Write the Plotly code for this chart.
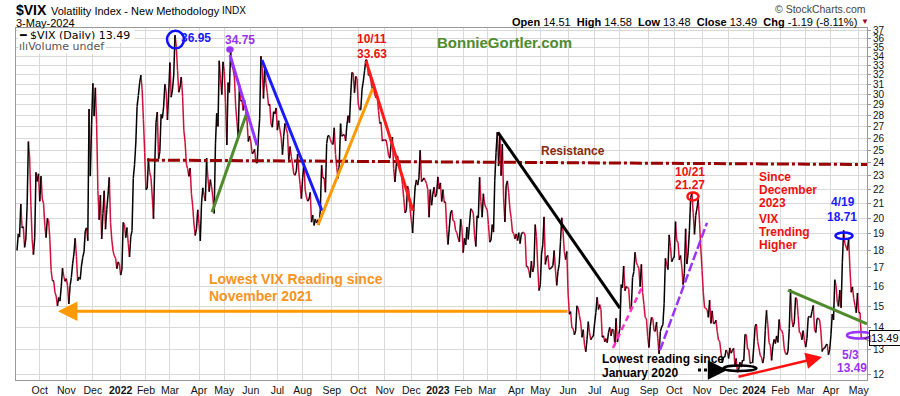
import numpy as np
import pandas as pd
import plotly.graph_objects as go

# ---------------- data ----------------
START, END = "2021-09-07", "2024-05-03"
HOLIDAYS = ["2021-09-06", "2021-11-25", "2021-12-24",
            "2022-01-17", "2022-02-21", "2022-04-15", "2022-05-30", "2022-06-20",
            "2022-07-04", "2022-09-05", "2022-11-24", "2022-12-26",
            "2023-01-02", "2023-01-16", "2023-02-20", "2023-04-07", "2023-05-29",
            "2023-06-19", "2023-07-04", "2023-09-04", "2023-11-23", "2023-12-25",
            "2024-01-01", "2024-01-15", "2024-02-19", "2024-03-29"]

vix_2021 = [
    18.0, 19.0, 18.8, 20.95, 19.37, 19.46, 18.18, 18.69, 20.81, 25.71, 24.36, 20.87, 18.63, 17.75, 18.76, 23.25, 22.56, 23.14,
    21.15, 22.96, 21.30, 21.00, 19.54, 18.77, 20.0, 19.85, 18.64, 16.86, 16.30, 16.30, 15.70, 15.49, 15.01, 15.43, 15.24, 15.98, 16.98, 16.53, 16.26,
    16.41, 16.03, 15.10, 16.03, 16.48, 17.22, 17.78, 18.73, 17.66, 16.29, 16.49, 16.37, 17.11, 17.59, 17.91, 19.17, 19.38, 18.58, 28.62, 22.96, 27.19,
    31.12, 27.95, 30.67, 27.18, 21.89, 19.90, 21.58, 18.69, 20.31, 21.89, 19.29, 20.57, 21.57, 22.87, 19.70, 18.63, 17.96, 17.68, 17.54, 16.95, 17.33, 17.22]

vix_2022 = [
    16.60, 16.91, 19.73, 19.61, 18.76, 19.40, 18.41, 17.62, 18.83, 19.19, 22.79, 23.85, 25.59, 28.85, 29.90, 31.16, 31.96, 30.49, 27.66, 24.83,
    21.96, 22.09, 24.35, 23.22, 22.86, 21.44, 19.96, 23.91, 27.36, 28.33, 24.29, 24.88, 28.11, 27.75, 28.81, 31.02, 30.32, 27.59, 30.15,
    33.32, 29.74, 30.48, 31.98, 36.45, 35.13, 32.45, 30.23, 30.75, 31.77, 29.83, 26.67, 25.67, 23.87, 23.53, 22.94, 23.57, 21.67, 20.81, 19.63, 18.90, 19.33, 20.56,
    19.63, 18.57, 21.03, 22.10, 21.55, 21.16, 24.37, 22.88, 21.82, 22.70, 22.17, 21.37, 20.32, 25.52, 28.21, 27.02, 33.52, 31.60, 29.99, 33.40,
    32.34, 29.25, 25.42, 31.20, 30.19, 34.75, 32.99, 32.56, 31.77, 28.87, 27.47, 26.10, 30.96, 29.35, 29.43, 28.48, 29.45, 28.37, 27.50, 25.72, 26.19,
    25.69, 24.72, 24.79, 25.07, 24.02, 23.96, 26.09, 27.75, 34.02, 32.69, 29.62, 32.95, 31.13, 30.19, 28.95, 29.05, 27.23, 26.95, 28.36, 28.16, 28.71,
    26.70, 27.54, 26.73, 26.08, 24.64, 26.17, 27.29, 26.82, 26.40, 24.23, 25.30, 24.50, 23.88, 23.11, 23.03, 23.36, 24.69, 23.24, 22.33, 21.33,
    22.84, 23.93, 21.95, 21.44, 21.15, 21.29, 21.77, 19.74, 20.20, 19.53, 19.95, 19.69, 19.90, 19.56, 20.60, 23.80, 22.82, 22.82, 21.78, 25.56, 26.21, 26.21, 25.87,
    25.56, 25.47, 26.91, 24.64, 23.61, 22.79, 23.87, 27.27, 26.16, 26.27, 26.30, 25.76, 27.16, 27.99, 27.35, 29.92, 32.26, 32.18, 30.18, 31.84, 31.62,
    29.07, 28.55, 28.55, 30.52, 31.36, 32.45, 33.63, 33.57, 31.94, 32.02, 31.37, 30.50, 30.76, 29.98, 29.69, 29.85, 28.46, 27.28, 27.39, 25.75, 25.88,
    25.81, 25.86, 25.30, 24.55, 24.35, 25.54, 26.09, 23.53, 22.52, 23.73, 24.54, 24.11, 23.93, 23.12, 22.36, 21.35, 20.35, 20.50, 22.21, 21.89, 20.58,
    19.84, 19.06, 20.75, 22.15, 22.68, 22.29, 22.83, 25.00, 22.55, 22.66, 22.83, 22.62, 22.42, 21.97, 20.07, 21.97, 20.87, 21.65, 22.14, 21.44, 21.67]

vix_2023 = [
    22.90, 22.01, 22.46, 21.13, 21.97, 21.07, 21.09, 19.27, 18.35, 19.36, 20.34, 20.52, 19.85, 19.81, 19.20, 19.08, 18.73, 18.51, 19.94, 19.40,
    17.87, 18.73, 18.33, 19.43, 18.66, 19.63, 20.63, 20.53, 20.34, 18.91, 18.23, 20.17, 20.02, 22.87, 21.14, 20.07, 21.67, 20.95, 20.70,
    20.58, 19.59, 18.49, 18.61, 19.59, 19.11, 22.61, 24.80, 26.52, 23.73, 26.14, 22.99, 25.51, 21.38, 19.75, 22.26, 22.61, 21.74, 20.60, 19.97, 19.12, 19.02, 18.70,
    19.00, 18.58, 19.08, 18.40, 18.97, 19.10, 19.09, 18.91, 17.07, 17.07, 16.83, 16.46, 17.38, 16.77, 17.11, 19.59, 18.84, 17.03, 15.78,
    16.08, 17.78, 18.34, 20.09, 17.19, 17.61, 17.71, 16.94, 16.94, 17.03, 17.12, 17.99, 16.87, 16.05, 16.81, 17.21, 18.53, 20.03, 19.14, 17.95, 17.46, 17.94,
    15.65, 14.60, 14.73, 13.96, 13.94, 13.65, 13.83, 15.01, 14.90, 14.53, 14.22, 13.54, 13.88, 13.20, 12.91, 13.44, 14.25, 13.74, 13.43, 13.54, 13.59,
    14.18, 14.69, 15.44, 14.83, 15.07, 14.84, 13.54, 13.61, 13.34, 13.48, 13.30, 13.76, 13.99, 13.60, 13.91, 13.86, 13.19, 14.41, 13.33, 13.63,
    13.93, 16.09, 15.92, 17.10, 15.77, 15.99, 15.96, 15.85, 14.84, 14.82, 16.46, 16.78, 17.89, 17.30, 17.13, 16.97, 15.98, 17.20, 15.68, 15.08, 14.45, 14.39, 13.57,
    13.09, 14.02, 14.45, 14.40, 13.84, 13.80, 14.23, 13.48, 12.82, 13.79, 14.00, 14.11, 15.14, 17.54, 17.20, 16.90, 18.94, 18.22, 17.34, 17.52,
    17.61, 19.78, 18.58, 18.49, 17.45, 17.70, 17.03, 16.09, 16.69, 19.32, 17.21, 17.88, 19.22, 21.40, 21.71, 20.37, 18.97, 20.19, 20.68, 21.27, 19.75, 18.14,
    16.87, 15.66, 14.91, 14.89, 14.81, 14.45, 15.29, 14.17, 14.76, 14.16, 14.18, 14.32, 13.80, 13.41, 13.35, 12.85, 12.46, 12.69, 12.69, 12.98, 12.92,
    12.63, 13.08, 12.85, 12.97, 13.06, 12.35, 12.63, 12.07, 12.19, 12.48, 12.28, 12.56, 12.53, 13.67, 13.65, 13.03, 12.99, 12.43, 12.47, 12.45]

vix_2024 = [
    13.20, 14.04, 14.13, 13.35, 13.08, 12.76, 12.69, 12.44, 12.70, 13.84, 14.79, 14.13, 13.30, 13.19, 12.55, 13.14, 13.45, 13.26, 13.60, 13.31, 14.35,
    13.88, 13.85, 13.67, 13.06, 12.83, 12.79, 12.93, 13.93, 15.85, 14.38, 14.01, 14.24, 15.42, 15.34, 14.54, 13.75, 13.74, 13.43, 13.84, 13.40,
    13.11, 13.49, 14.46, 14.50, 14.44, 14.74, 15.03, 13.88, 13.75, 14.40, 14.41, 14.33, 13.82, 12.92, 13.06, 13.06, 13.19, 13.24, 12.78, 13.01,
    13.65, 14.61, 14.33, 16.35, 16.03, 15.19, 14.98, 15.80, 14.91, 17.31, 19.23, 18.40, 18.21, 18.00, 18.71, 16.94, 15.69, 15.97, 15.37, 15.03, 14.67, 15.65,
    14.68, 14.68, 13.49]

Y_TICKS = list(range(12, 38))
MONTH_ABBR = ["Jan", "Feb", "Mar", "Apr", "May", "Jun", "Jul", "Aug", "Sep", "Oct", "Nov", "Dec"]

# trading-day calendar (StockCharts spaces trading days evenly)
days = pd.bdate_range(START, END)
days = days[~days.isin(pd.to_datetime(HOLIDAYS))]
pos_of = {d: i for i, d in enumerate(days)}

xs, ys = [], []
for year, vals in [(2021, vix_2021), (2022, vix_2022), (2023, vix_2023), (2024, vix_2024)]:
    ydays = days[days.year == year]
    for d, v in zip(ydays, vals):
        xs.append(pos_of[d])
        ys.append(v)

# month ticks: first trading day of each month
tickvals, ticktext = [], []
prev = None
for i, d in enumerate(days):
    key = (d.year, d.month)
    if key != prev and i > 0:
        tickvals.append(i)
        ticktext.append(f"<b>{d.year}</b>" if d.month == 1 else MONTH_ABBR[d.month - 1])
    prev = key

# colored close line: black when up, red when down
up_x, up_y, dn_x, dn_y = [], [], [], []
for k in range(1, len(xs)):
    if ys[k] >= ys[k - 1]:
        up_x += [xs[k - 1], xs[k], None]; up_y += [ys[k - 1], ys[k], None]
    else:
        dn_x += [xs[k - 1], xs[k], None]; dn_y += [ys[k - 1], ys[k], None]

ARIAL = "Liberation Sans, Arial, sans-serif"
VERD = "DejaVu Sans, Verdana, sans-serif"
RED_LINE = "#d0103a"

fig = go.Figure()
fig.add_trace(go.Scatter(x=dn_x, y=dn_y, mode="lines", line=dict(color=RED_LINE, width=1.5),
                         hoverinfo="skip", showlegend=False))
fig.add_trace(go.Scatter(x=up_x, y=up_y, mode="lines", line=dict(color="#000000", width=1.5),
                         hoverinfo="skip", showlegend=False))

# ---------------- drawn trend lines (x = trading-day index, y = VIX) ----------------
TRENDS = [
    # x0, y0, x1, y1, color, width, dash
    (102.8, 24.2, 672.5, 23.85, "#990000", 3, "12px,3px,3px,3px"),
    (154.3, 20.4, 182.0, 28.3, "#4e8b2d", 3, "solid"),
    (168.5, 34.15, 189.9, 25.4, "#9933ff", 3, "solid"),
    (193.8, 33.6, 241.3, 20.5, "#1a1aff", 3, "solid"),
    (238.1, 19.56, 281.6, 30.65, "#ff9900", 3, "solid"),
    (276.1, 33.5, 313.3, 20.5, "#ff1a1a", 3, "solid"),
    (380.5, 26.5, 477.0, 14.9, "#000000", 3, "solid"),
    (471.5, 13.07, 494.5, 15.96, "#ff33cc", 2.5, "6px,4px"),
    (508.7, 12.98, 545.9, 19.7, "#9933ff", 2.5, "9px,3px"),
    (610.0, 15.8, 672.5, 14.15, "#4e8b2d", 3, "solid"),
    (538.8, 12.16, 553.5, 12.16, "#000000", 3, "3px,3px"),
]
for x0, y0, x1, y1, c, w, dsh in TRENDS:
    fig.add_trace(go.Scatter(x=[x0, x1], y=[y0, y1], mode="lines",
                             line=dict(color=c, width=w, dash=dsh),
                             hoverinfo="skip", showlegend=False))

L = np.log10

def ell(xa, ya, w, h, color, width=2.5, fill="rgba(0,0,0,0)", xref="x"):
    return dict(type="circle", xref=xref, yref="y", xsizemode="pixel", ysizemode="pixel",
                xanchor=xa, yanchor=ya, x0=-w / 2, x1=w / 2, y0=-h / 2, y1=h / 2,
                line=dict(color=color, width=width), fillcolor=fill, layer="above")

W, H, LM, TM = 851, 352, 16, 28
def px(xp): return (xp - LM) / W
def py(yp): return (TM + H - yp) / H

shapes = [
    ell(125.4, 34.9, 17, 35, "#1010ff"),
    ell(168.5, 34.5, 6, 10, "#9933ff", 1.5, "#9933ff"),
    ell(534.8, 21.2, 11, 16, "#ff1111"),
    ell(654.3, 18.68, 17, 13, "#1010ff"),
    ell(572.0, 12.12, 33, 11, "#000000"),
    ell(px(859.5), 13.49, 25, 13, "#9933ff", xref="paper"),
]

def t(x, y, s, color, size=12, xanchor="center", bold=True, family=ARIAL):
    return dict(x=x, y=L(y), xref="x", yref="y", text=(f"<b>{s}</b>" if bold else s),
                showarrow=False, xanchor=xanchor, yanchor="middle",
                font=dict(family=family, size=size, color=color))

BLUE, PURPLE, RED = "#1a1aff", "#9933ee", "#ee1111"
ORANGE = "#f7931e"
ann = [
    t(134.5, 37.7, "3/7", BLUE), t(141.5, 36.1, "36.95", BLUE),
    t(170.9, 37.7, "5/9", PURPLE), t(176.4, 35.9, "34.75", PURPLE),
    t(280.9, 36.0, "10/11", RED), t(280.9, 34.3, "33.63", RED),
    t(385.3, 35.6, "BonnieGortler.com", "#4e8b2d", 15),
    t(439.9, 24.9, "Resistance", "#8b2a0a", 12),
    t(532.4, 23.27, "10/21", RED), t(532.4, 22.3, "21.27", RED),
    t(585.4, 22.9, "Since", RED, 12, "left"), t(585.4, 21.93, "December", RED, 12, "left"),
    t(585.4, 21.02, "2023", RED, 12, "left"), t(585.4, 19.95, "VIX", RED, 12, "left"),
    t(585.4, 19.11, "Trending", RED, 12, "left"), t(585.4, 18.32, "Higher", RED, 12, "left"),
    t(653.5, 21.09, "4/19", BLUE), t(652.7, 20.08, "18.71", BLUE),
    t(659.5, 12.78, "5/3", PURPLE), t(661.0, 12.26, "13.49", PURPLE),
    t(150.3, 16.4, "Lowest VIX Reading since", ORANGE, 14, "left"),
    t(150.3, 15.5, "November 2021", ORANGE, 14, "left"),
    t(461.2, 12.6, "Lowest reading since", "#000000", 12, "left"),
    t(461.2, 12.05, "January 2020", "#000000", 12, "left"),
]

def arrow(hx, hy, tx, ty, color, width):
    return dict(x=hx, y=L(hy), ax=tx, ay=L(ty), xref="x", yref="y", axref="x", ayref="y",
                text="", showarrow=True, arrowhead=2, arrowsize=1.3, arrowwidth=width,
                arrowcolor=color)

ann += [
    arrow(32.4, 14.75, 436.7, 14.75, "#ff9900", 3),
    arrow(636.9, 12.69, 569.6, 11.88, "#ff1111", 2.5),
    arrow(562.0, 12.16, 553.0, 12.16, "#000000", 3),
]

# header / legend texts (paper coordinates)
def h(xp, yp, s, size, color="#000", xanchor="left", family=ARIAL, bg=None):
    d = dict(x=px(xp), y=py(yp), xref="paper", yref="paper", text=s, showarrow=False,
             xanchor=xanchor, yanchor="middle", font=dict(family=family, size=size, color=color))
    if bg:
        d.update(bgcolor=bg, borderpad=0)
    return d

ann += [
    h(14, 10, "<b>$VIX</b>", 14),
    h(49, 11, "Volatility Index - New Methodology", 11),
    h(220, 11, "INDX", 10),
    h(14, 23, "3-May-2024", 11),
    h(868, 9, "© StockCharts.com", 10.5, "#444", "right"),
    h(859, 22, "<b>Open</b> 14.51  <b>High</b> 14.58  <b>Low</b> 13.48  <b>Close</b> 13.49  <b>Chg</b> -1.19 (-8.11%)",
      11, "#000", "right"),
    h(865, 22, "▼", 8, "#990033", "center"),
    h(18, 35, "<b>━</b> $VIX (Daily) 13.49 ", 11, "#000", "left", VERD, "white"),
    h(18, 46, "ılıVolume undef", 11, "#555", "left", VERD, "white"),
    dict(x=px(869), y=L(13.49), xref="paper", yref="y", text="13.49", showarrow=False,
         xanchor="left", yanchor="middle", bgcolor="white", bordercolor="#000", borderwidth=1,
         borderpad=1, font=dict(family=ARIAL, size=11, color="#000")),
    dict(x=px(867), y=L(13.49), xref="paper", yref="y", text="◁", showarrow=False,
         xanchor="center", yanchor="middle", font=dict(family=VERD, size=9, color="#000")),
]

fig.update_layout(
    width=900, height=396,
    margin=dict(l=LM, r=900 - LM - W, t=TM, b=396 - TM - H),
    paper_bgcolor="white", plot_bgcolor="white",
    showlegend=False, shapes=shapes, annotations=ann,
    xaxis=dict(range=[-0.8, 672.5], tickvals=tickvals, ticktext=ticktext, automargin=False,
               showgrid=True, gridcolor="#d9d9d9", gridwidth=1,
               ticks="", ticklen=0,
               showline=True, linecolor="#999", mirror=True, zeroline=False,
               tickfont=dict(family=ARIAL, size=10.5, color="#111")),
    yaxis=dict(type="log", range=[L(11.77), L(37.31)], side="right", automargin=False,
               tickvals=Y_TICKS, ticktext=[str(v) for v in Y_TICKS],
               showgrid=True, gridcolor="#d9d9d9", gridwidth=1,
               ticks="outside", ticklen=3, tickcolor="#999",
               showline=True, linecolor="#999", mirror=True, zeroline=False,
               tickfont=dict(family=ARIAL, size=10, color="#111")),
)

fig.write_html("out.html", config={"displayModeBar": False, "staticPlot": True},
               post_script="document.body.style.margin='0';document.body.style.padding='0';")
